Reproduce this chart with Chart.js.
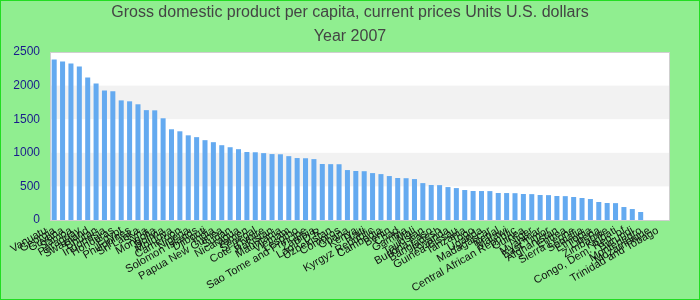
<!DOCTYPE html>
<html>
<head>
<meta charset="utf-8">
<script src="https://cdn.jsdelivr.net/npm/chart.js@4.4.1/dist/chart.umd.min.js"></script>
<style>
    html, body { margin: 0; padding: 0; }
    #wrap {
        width: 698px;
        height: 298px;
        border: 1px solid #22dd22;
        background: #90ee90;
    }
</style>
</head>
<body>
<div id="wrap"><canvas id="gdpChart" width="698" height="298"></canvas></div>
<script>
const titleLines = ["Gross domestic product per capita, current prices Units U.S. dollars", "Year 2007"];

const countries = [
    "Vanuatu", "Georgia", "Guyana", "Samoa", "Paraguay", "Swaziland", "Bhutan", "Indonesia",
    "Honduras", "Egypt", "Philippines", "Sri Lanka", "Syria", "Mongolia", "Bolivia", "Moldova",
    "Cameroon", "Nigeria", "Solomon Islands", "Djibouti", "India", "Papua New Guinea", "Sudan",
    "Nicaragua", "Yemen", "Senegal", "Cote d'Ivoire", "Pakistan", "Mauritania", "Vietnam",
    "Lesotho", "Sao Tome and Principe", "Zambia", "Lao P.D.R.", "Uzbekistan", "Comoros", "Ghana",
    "Kenya", "Haiti", "Kyrgyz Republic", "Cambodia", "Benin", "Chad", "Gambia", "Mali",
    "Tajikistan", "Burkina Faso", "Bangladesh", "Rwanda", "Guinea-Bissau", "Tanzania", "Togo",
    "Uganda", "Madagascar", "Nepal", "Malawi", "Central African Republic", "Guinea", "Niger",
    "Myanmar", "East Timor", "Afghanistan", "Eritrea", "Sierra Leone", "Somalia", "Ethiopia",
    "Liberia", "Zimbabwe", "Kiribati", "Congo, Dem. Rep. of", "Burundi", "Montenegro",
    "Mozambique", "Trinidad and Tobago"
];

// last three countries have no value for 2007
const gdpPerCapita = [
    2390, 2358, 2330, 2285, 2120, 2032, 1928, 1915, 1780, 1766, 1722, 1635, 1632, 1514,
    1350, 1320, 1260, 1233, 1188, 1158, 1113, 1083, 1054, 1012, 1008, 995, 981, 978,
    950, 922, 919, 906, 833, 831, 830, 743, 729, 726, 698, 683, 654, 625, 622, 609,
    549, 521, 519, 490, 475, 446, 432, 431, 430, 402, 401, 399, 387, 385, 372, 370,
    357, 355, 342, 327, 312, 268, 253, 251, 193, 163, 119, null, null, null
];

const yTicks = [0, 500, 1000, 1500, 2000, 2500];

// white / light grey bands between the y ticks, plus a frame round the plot
const bandsPlugin = {
    id: "bands",
    beforeDatasetsDraw(chart) {
        const { ctx, chartArea, scales } = chart;
        ctx.save();
        ctx.fillStyle = "#ffffff";
        ctx.fillRect(chartArea.left, chartArea.top, chartArea.width, chartArea.height);
        ctx.fillStyle = "#f2f2f2";
        for (let i = 1; i < yTicks.length - 1; i += 2) {
            const yTop = scales.y.getPixelForValue(yTicks[i + 1]);
            const yBottom = scales.y.getPixelForValue(yTicks[i]);
            ctx.fillRect(chartArea.left, yTop, chartArea.width, yBottom - yTop);
        }
        ctx.strokeStyle = "#cfcfcf";
        ctx.lineWidth = 1;
        ctx.strokeRect(chartArea.left + 0.5, chartArea.top + 0.5, chartArea.width - 1, chartArea.height);
        ctx.restore();
    }
};

const labelFont = "'Liberation Sans', Arial, sans-serif";

new Chart(document.getElementById("gdpChart"), {
    type: "bar",
    data: {
        labels: countries,
        datasets: [{
            data: gdpPerCapita,
            backgroundColor: "#64aaf0",
            barPercentage: 0.6,
            categoryPercentage: 1
        }]
    },
    options: {
        responsive: false,
        animation: false,
        layout: { padding: 0 },
        plugins: {
            legend: { display: false },
            tooltip: { enabled: false },
            title: {
                display: true,
                text: titleLines,
                color: "#444444",
                font: { family: labelFont, size: 16, weight: "normal", lineHeight: 1.5 },
                padding: { top: 0, bottom: 3 }
            }
        },
        scales: {
            x: {
                grid: { display: false, drawTicks: false },
                border: { display: false },
                ticks: {
                    autoSkip: false,
                    maxRotation: 30,
                    minRotation: 30,
                    padding: 4,
                    labelOffset: -8,
                    color: "#111111",
                    font: { family: labelFont, size: 11 }
                },
                afterFit(scale) { scale.height = 79; }
            },
            y: {
                min: 0,
                max: 2500,
                grid: { display: false, drawTicks: false },
                border: { display: false },
                ticks: {
                    stepSize: 500,
                    padding: 10,
                    color: "#1a1a8c",
                    font: { family: labelFont, size: 12 },
                    callback: (value) => String(value)
                },
                afterFit(scale) { scale.width = 49; }
            },
            // empty strip on the right so the title centres on the whole canvas
            yRight: {
                position: "right",
                display: true,
                grid: { display: false, drawTicks: false },
                border: { display: false },
                ticks: { display: false },
                afterFit(scale) { scale.width = 29; }
            }
        }
    },
    plugins: [bandsPlugin]
});
</script>
</body>
</html>
